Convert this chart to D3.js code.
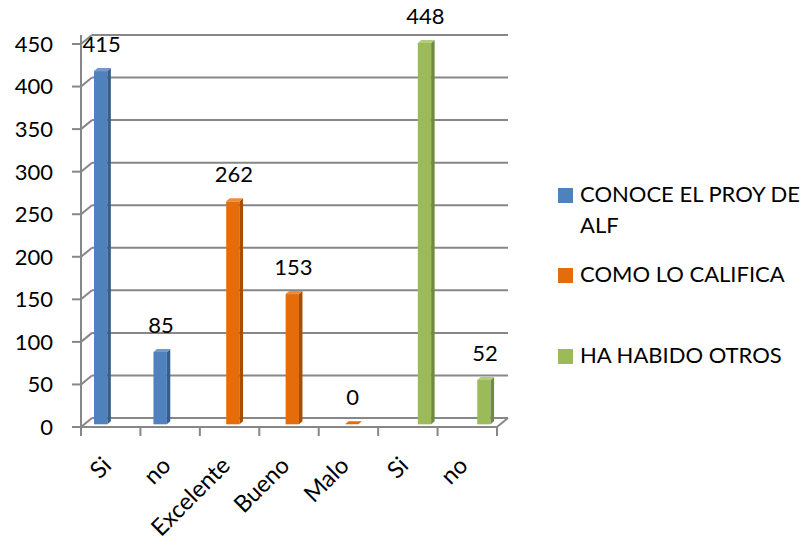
<!DOCTYPE html>
<html><head><meta charset="utf-8">
<script src="https://cdn.jsdelivr.net/npm/d3@7"></script>
<style>html,body{margin:0;padding:0;background:#fff;}svg{display:block;font-family:Lato,"Open Sans",sans-serif;}</style>
</head><body>
<svg id="c" width="806" height="548"></svg>
<script>
const categories = ["Si","no","Excelente","Bueno","Malo","Si","no"];
const seriesNames = ["CONOCE EL PROY DE ALF","COMO LO CALIFICA","HA HABIDO OTROS"];
const conoceValues = [415,85,null,null,null,null,null];
const calificaValues = [null,null,262,153,0,null,null];
const otrosValues = [null,null,null,null,null,448,52];
const yTicks = [0,50,100,150,200,250,300,350,400,450];

const seriesValues = [conoceValues, calificaValues, otrosValues];
const colors = [
  {front:"#4F81BD", side:"#385D8A", top:"#7199CB"},
  {front:"#E46C0A", side:"#A54E07", top:"#F08B3A"},
  {front:"#9BBB59", side:"#718A40", top:"#B2CC7D"}
];

const svg = d3.select("#c");
const gridColor = "#878787";
const DX = 11, DY = -9;          // wall depth
const f = 0.3;                   // bar depth position
const bdx = 3.5, bdy = -3;       // bar own depth

const x = d3.scaleBand().domain(d3.range(categories.length)).range([81, 497]).padding(0);
const xs = d3.scaleBand().domain(d3.range(3)).range([0, x.bandwidth()]).paddingInner(0).paddingOuter(0.73);
const y = d3.scaleLinear().domain([0, 450]).range([427, 44]);

// back wall gridlines
const g = svg.append("g").attr("fill","none").attr("stroke",gridColor).attr("stroke-width",2);
yTicks.forEach(v => {
  const yy = y(v);
  g.append("line").attr("x1",81).attr("y1",yy).attr("x2",81+DX).attr("y2",yy+DY);
  g.append("line").attr("x1",81+DX).attr("y1",yy+DY).attr("x2",497+DX).attr("y2",yy+DY);
});
// floor right edge & front baseline
g.append("line").attr("x1",497).attr("y1",y(0)).attr("x2",497+DX).attr("y2",y(0)+DY);
g.append("line").attr("x1",72).attr("y1",y(0)).attr("x2",497).attr("y2",y(0));
// vertical axis
g.append("line").attr("x1",81).attr("y1",y(450)+DY).attr("x2",81).attr("y2",y(0)+9);
// left ticks
yTicks.forEach(v => {
  g.append("line").attr("x1",72).attr("y1",y(v)).attr("x2",81).attr("y2",y(v));
});
// bottom ticks
d3.range(categories.length+1).forEach(i => {
  const xx = i < categories.length ? x(i) : x.range()[1];
  g.append("line").attr("x1",xx).attr("y1",y(0)).attr("x2",xx).attr("y2",y(0)+9);
});

// bars
const bars = svg.append("g");
const labels = svg.append("g").attr("font-size",22).attr("fill","#000").attr("text-anchor","middle");
seriesValues.forEach((vals, s) => {
  vals.forEach((v, i) => {
    if (v === null) return;
    const w = xs.bandwidth();
    const bx = x(i) + xs(s) + f*DX;
    const base = y(0) + f*DY;
    const top = y(v) + f*DY;
    const c = colors[s];
    if (v > 0) {
      bars.append("rect").attr("x",bx).attr("y",top).attr("width",w).attr("height",base-top).attr("fill",c.front);
      bars.append("polygon").attr("points",[[bx+w,top],[bx+w+bdx,top+bdy],[bx+w+bdx,base+bdy],[bx+w,base]].join(" ")).attr("fill",c.side);
    }
    bars.append("polygon").attr("points",[[bx,top],[bx+bdx,top+bdy],[bx+w+bdx,top+bdy],[bx+w,top]].join(" ")).attr("fill", v>0 ? c.top : c.front);
    labels.append("text").attr("x",bx+w/2+1).attr("y",top-19).text(v);
  });
});

// y axis labels
svg.append("g").attr("font-size",22).attr("text-anchor","end").selectAll("text")
  .data(yTicks).join("text")
  .attr("x",53).attr("y",d=>y(d)).attr("dy","0.36em").text(d=>d);

// x labels
svg.append("g").attr("font-size",23.5).attr("text-anchor","end").selectAll("text")
  .data(categories).join("text")
  .attr("transform",(d,i)=>`translate(${x(i)+x.bandwidth()/2+2},${467}) rotate(-45)`)
  .text(d=>d);

// legend
const legend = svg.append("g").attr("font-size",22);
const legY = [202, 282, 363];
const legLines = [["CONOCE EL PROY DE","ALF"],["COMO LO CALIFICA"],["HA HABIDO OTROS"]];
seriesNames.forEach((n, s) => {
  legend.append("rect").attr("x",558).attr("y",legY[s]-14).attr("width",15).attr("height",15).attr("fill",colors[s].front);
  const t = legend.append("text").attr("x",580).attr("y",legY[s]);
  legLines[s].forEach((ln, k) => t.append("tspan").attr("x",580).attr("dy", k===0?0:31).text(ln));
});
</script>
</body></html>
